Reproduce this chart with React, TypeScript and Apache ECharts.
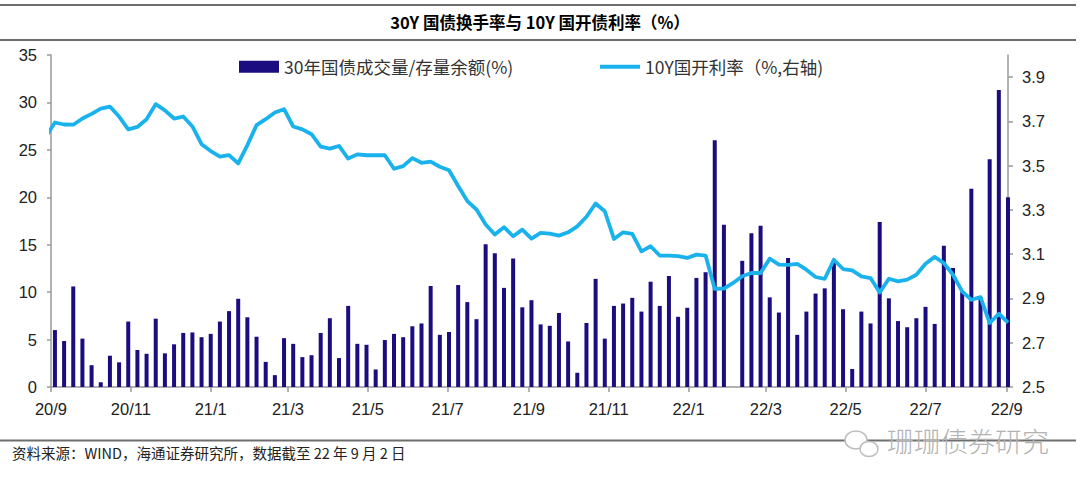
import React, { useEffect, useRef } from 'react';
import * as echarts from 'echarts';

const TITLE = '30Y 国债换手率与 10Y 国开债利率（%）';
const BAR_NAME = '30年国债成交量/存量余额(%)';
const LINE_NAME = '10Y国开利率（%,右轴)';
const SOURCE = '资料来源：WIND，海通证券研究所，数据截至 22 年 9 月 2 日';
const WATERMARK = '珊珊债券研究';

// weekly observations (Fridays)
const FIRST_FRIDAY = '2020-09-04';
const WEEK_COUNT = 105;
const X_MIN = '2020-09-01';
const X_MAX = '2022-09-02';
const X_TICKS = [
  '2020-09-01', '2020-11-01', '2021-01-01', '2021-03-01', '2021-05-01', '2021-07-01', '2021-09-01',
  '2021-11-01', '2022-01-01', '2022-03-01', '2022-05-01', '2022-07-01', '2022-09-01',
];
const LEFT_TICKS = [0, 5, 10, 15, 20, 25, 30, 35];
const RIGHT_TICKS = [2.5, 2.7, 2.9, 3.1, 3.3, 3.5, 3.7, 3.9];

// 30Y turnover (%), one per week
const turnover: (number | null)[] = [
  6.0, 4.85, 10.6, 5.1, 2.3, 0.5, 3.3, 2.6, 6.9, 3.9,
  3.5, 7.2, 3.55, 4.5, 5.7, 5.75, 5.25, 5.6, 6.9, 8.0,
  9.3, 7.35, 5.3, 2.65, 1.25, 5.15, 4.55, 3.15, 3.35, 5.7,
  7.25, 3.05, 8.55, 4.55, 4.45, 1.85, 4.95, 5.6, 5.25, 6.4,
  6.7, 10.65, 5.5, 5.8, 10.75, 8.95, 7.15, 15.05, 14.1, 10.45,
  13.55, 8.4, 9.15, 6.6, 6.45, 7.8, 4.8, 1.5, 6.75, 11.4,
  5.1, 8.55, 8.8, 9.4, 7.95, 11.1, 8.55, 11.7, 7.4, 8.35,
  11.5, 12.1, 26.0, 17.1, null, 13.3, 16.2, 17.0, 9.45, 7.85,
  13.6, 5.5, 7.95, 9.85, 10.4, 13.4, 8.2, 1.9, 7.95, 6.7,
  17.4, 9.35, 6.95, 6.3, 7.25, 8.45, 6.65, 14.9, 12.55, 10.0,
  20.9, 9.5, 24.0, 31.3, 20.0,
];

// 10Y CDB yield (%), previous week then one per week
const RATE_LEAD_DATE = '2020-08-28';
const RATE_LEAD_VALUE = 3.63;
const rate: number[] = [
  3.695, 3.686, 3.685, 3.713, 3.734, 3.758, 3.767, 3.722, 3.664, 3.675,
  3.71, 3.778, 3.75, 3.713, 3.722, 3.677, 3.597, 3.566, 3.541, 3.548,
  3.51, 3.593, 3.683, 3.71, 3.74, 3.755, 3.677, 3.664, 3.642, 3.586,
  3.577, 3.589, 3.532, 3.551, 3.547, 3.547, 3.547, 3.486, 3.498, 3.534,
  3.513, 3.518, 3.495, 3.479, 3.408, 3.34, 3.302, 3.234, 3.189, 3.222,
  3.181, 3.211, 3.17, 3.196, 3.193, 3.184, 3.199, 3.226, 3.269, 3.329,
  3.294, 3.169, 3.199, 3.192, 3.113, 3.136, 3.094, 3.094, 3.091, 3.083,
  3.098, 3.094, 2.943, 2.945, 2.97, 3.0, 3.015, 3.015, 3.08, 3.053,
  3.052, 3.056, 3.03, 2.997, 2.989, 3.075, 3.033, 3.027, 3.0, 2.992,
  2.927, 2.989, 2.977, 2.985, 3.007, 3.057, 3.088, 3.06, 3.007, 2.932,
  2.894, 2.906, 2.789, 2.831, 2.791,
];

const DAY = 86400000;
function ts(s: string): number {
  const [y, m, d] = s.split('-').map(Number);
  return Date.UTC(y, m - 1, d);
}
// day offset from the axis start (a date axis expressed in days)
const ORIGIN = ts(X_MIN);
function dayOf(s: string): number {
  return Math.round((ts(s) - ORIGIN) / DAY);
}
const weeks: number[] = [];
for (let i = 0; i < WEEK_COUNT; i++) weeks.push(dayOf(FIRST_FRIDAY) + i * 7);

const BAR_COLOR = '#1B0C80';
const LINE_COLOR = '#19B2EC';
const AXIS_COLOR = '#9a9a9a';
const LABEL_FONT = '"Liberation Sans", Arial, sans-serif';
const CJK_FONT = '"Noto Sans CJK SC", sans-serif';

export default function App() {
  const ref = useRef<HTMLDivElement>(null);
  useEffect(() => {
    if (!ref.current) return;
    const chart = echarts.init(ref.current, undefined, { renderer: 'svg' });
    const xTickValues = X_TICKS.map(dayOf);
    const option: any = {
      animation: false,
      backgroundColor: '#ffffff',
      title: {
        text: TITLE,
        left: 'center',
        top: 9,
        textStyle: { fontFamily: CJK_FONT, fontSize: 16.5, fontWeight: 'bold', color: '#000' },
      },
      legend: [
        {
          data: [{ name: BAR_NAME, icon: 'rect' }],
          left: 234,
          top: 53,
          itemWidth: 40,
          itemHeight: 12,
          textStyle: { fontFamily: CJK_FONT, fontSize: 17.5, color: '#333' },
        },
        {
          data: [{ name: LINE_NAME, icon: 'rect' }],
          left: 595,
          top: 53,
          itemWidth: 40,
          itemHeight: 4,
          textStyle: { fontFamily: CJK_FONT, fontSize: 17.5, color: '#333' },
        },
      ],
      grid: { left: 51, right: 72, top: 55, bottom: 105, containLabel: false },
      xAxis: {
        type: 'value',
        min: 0,
        max: dayOf(X_MAX),
        axisLine: { show: true, lineStyle: { color: AXIS_COLOR, width: 1.5 } },
        axisTick: { show: true, length: 5, customValues: xTickValues, lineStyle: { color: AXIS_COLOR, width: 1.5 } },
        axisLabel: {
          customValues: xTickValues,
          formatter: (v: number) => {
            const d = new Date(ORIGIN + v * DAY);
            return `${d.getUTCFullYear() % 100}/${d.getUTCMonth() + 1}`;
          },
          fontFamily: LABEL_FONT,
          fontSize: 16.5,
          color: '#222',
          margin: 13,
          showMinLabel: true,
          showMaxLabel: true,
        },
        splitLine: { show: false },
      },
      yAxis: [
        {
          type: 'value',
          position: 'left',
          min: LEFT_TICKS[0],
          max: LEFT_TICKS[LEFT_TICKS.length - 1],
          interval: 5,
          axisLine: { show: true, lineStyle: { color: AXIS_COLOR, width: 1.5 } },
          axisTick: { show: true, length: 4, lineStyle: { color: AXIS_COLOR, width: 1.5 } },
          axisLabel: { fontFamily: LABEL_FONT, fontSize: 16.5, color: '#222', margin: 14 },
          splitLine: { show: false },
        },
        {
          type: 'value',
          position: 'right',
          min: 2.5,
          max: 4.0,
          axisLine: { show: true, lineStyle: { color: AXIS_COLOR, width: 1.5 } },
          axisTick: { show: true, length: 5, customValues: RIGHT_TICKS, lineStyle: { color: AXIS_COLOR, width: 1.5 } },
          axisLabel: {
            customValues: RIGHT_TICKS,
            formatter: (v: number) => Number(v).toFixed(1),
            fontFamily: LABEL_FONT,
            fontSize: 16.5,
            color: '#222',
            margin: 14,
          },
          splitLine: { show: false },
        },
      ],
      series: [
        {
          name: BAR_NAME,
          type: 'bar',
          yAxisIndex: 0,
          barWidth: 4,
          itemStyle: { color: BAR_COLOR },
          data: weeks.map((t, i) => [t, turnover[i] == null ? '-' : turnover[i]]),
          z: 2,
        },
        {
          name: LINE_NAME,
          type: 'line',
          yAxisIndex: 1,
          symbol: 'none',
          showSymbol: false,
          clip: true,
          lineStyle: { color: LINE_COLOR, width: 3.8, join: 'round' },
          itemStyle: { color: LINE_COLOR },
          data: [[dayOf(RATE_LEAD_DATE), RATE_LEAD_VALUE], ...weeks.map((t, i) => [t, rate[i]])],
          z: 3,
        },
      ],
      graphic: [
        { type: 'line', shape: { x1: 0, y1: 5, x2: 1076, y2: 5 }, style: { stroke: '#6e6e6e', lineWidth: 2 } },
        { type: 'line', shape: { x1: 0, y1: 40, x2: 1076, y2: 40 }, style: { stroke: '#6e6e6e', lineWidth: 2 } },
        { type: 'line', shape: { x1: 0, y1: 440.5, x2: 1076, y2: 440.5 }, style: { stroke: '#6e6e6e', lineWidth: 2 } },
        {
          type: 'text',
          left: 12,
          top: 445,
          style: { text: SOURCE, fontFamily: CJK_FONT, fontSize: 14.5, fill: '#222' },
        },
        { type: 'ellipse', shape: { cx: 856, cy: 440, rx: 11, ry: 9 }, style: { fill: '#fff', stroke: '#bdbdbd', lineWidth: 1.5 } },
        { type: 'ellipse', shape: { cx: 869, cy: 449, rx: 9, ry: 7.5 }, style: { fill: '#fff', stroke: '#bdbdbd', lineWidth: 1.5 } },
        {
          type: 'text',
          left: 887,
          top: 427,
          style: { text: WATERMARK, fontFamily: CJK_FONT, fontSize: 27, fill: '#b3b3b3', fontWeight: 300 },
        },
      ],
    };
    chart.setOption(option);
    return () => chart.dispose();
  }, []);
  return (
    <div
      ref={ref}
      style={{ position: 'absolute', left: 0, top: 0, width: 1080, height: 492, background: '#fff' }}
    />
  );
}
